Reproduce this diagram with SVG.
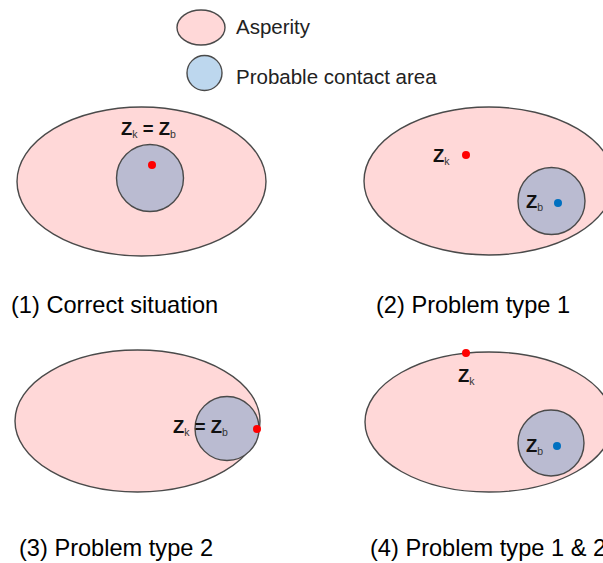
<svg xmlns="http://www.w3.org/2000/svg" width="603" height="563" viewBox="0 0 603 563">
<style>
.asp{fill:#FFD8D8;stroke:#4a4a4a;stroke-width:1.4}
.pca{fill:#BABBD1;stroke:#4a4a4a;stroke-width:1.4}
.leg{fill:#BDD7EE;stroke:#4a4a4a;stroke-width:1.4}
.red{fill:#FF0000}
.blue{fill:#0070C0}
.lt{font-family:"Liberation Sans",Arial,sans-serif;font-size:20.5px;fill:#222}
.cap{font-family:"Liberation Sans",Arial,sans-serif;font-size:23.6px;fill:#000}
.z{font-family:"Liberation Sans",Arial,sans-serif;font-size:18.5px;font-weight:bold;fill:#111}
.sub{font-size:10.5px;font-weight:normal;fill:#333}
</style>
<rect width="603" height="563" fill="#fff"/>
<g id="legend">
<ellipse class="asp" cx="201" cy="27.5" rx="24" ry="17.5"/>
<text class="lt" x="236" y="34">Asperity</text>
<circle class="leg" cx="204.5" cy="73" r="17.5"/>
<text class="lt" x="236" y="84">Probable contact area</text>
</g>
<g id="panel1">
<ellipse class="asp" cx="141.5" cy="181.5" rx="124.5" ry="74.5"/>
<circle class="pca" cx="150" cy="178" r="33.5"/>
<circle class="red" cx="152" cy="165" r="4"/>
<text class="z" x="121" y="135">Z<tspan class="sub" dy="3">k</tspan><tspan dy="-3"> = Z</tspan><tspan class="sub" dy="3">b</tspan></text>
<text class="cap" x="11" y="313">(1) Correct situation</text>
</g>
<g id="panel2">
<ellipse class="asp" cx="489" cy="181" rx="125" ry="74"/>
<circle class="pca" cx="551.5" cy="201" r="33.5"/>
<circle class="red" cx="466" cy="155" r="4"/>
<circle class="blue" cx="558" cy="203" r="4"/>
<text class="z" x="433" y="162">Z<tspan class="sub" dy="3">k</tspan></text>
<text class="z" x="526" y="208">Z<tspan class="sub" dy="3">b</tspan></text>
<text class="cap" x="376" y="313">(2) Problem type 1</text>
</g>
<g id="panel3">
<ellipse class="asp" cx="137.5" cy="421" rx="122.5" ry="71"/>
<circle class="pca" cx="227" cy="428.5" r="32"/>
<circle class="red" cx="257" cy="429" r="4"/>
<text class="z" x="173" y="433">Z<tspan class="sub" dy="3">k</tspan><tspan dy="-3"> = Z</tspan><tspan class="sub" dy="3">b</tspan></text>
<text class="cap" x="19" y="556">(3) Problem type 2</text>
</g>
<g id="panel4">
<ellipse class="asp" cx="489" cy="422" rx="124" ry="70"/>
<circle class="pca" cx="551" cy="443" r="33"/>
<circle class="red" cx="466" cy="353" r="4"/>
<circle class="blue" cx="557" cy="446" r="4"/>
<text class="z" x="458" y="382">Z<tspan class="sub" dy="3">k</tspan></text>
<text class="z" x="526" y="452">Z<tspan class="sub" dy="3">b</tspan></text>
<text class="cap" x="370" y="556">(4) Problem type 1 &amp; 2</text>
</g>
<g id="connectors"/>
</svg>
